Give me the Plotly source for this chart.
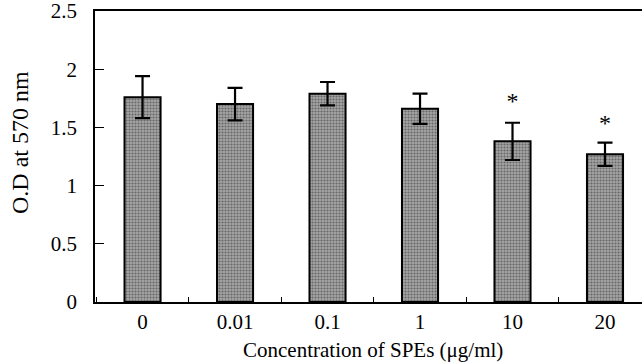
import plotly.graph_objects as go

categories = ["0", "0.01", "0.1", "1", "10", "20"]
od_values = [1.76, 1.70, 1.79, 1.66, 1.38, 1.27]
od_errors = [0.18, 0.14, 0.10, 0.13, 0.16, 0.10]
star_categories = ["10", "20"]
star_heights = [1.71, 1.52]
x_title = "Concentration of SPEs (\u03bcg/ml)"
y_title = "O.D at 570 nm"

fig = go.Figure()
fig.add_trace(go.Bar(
    x=categories, y=od_values, width=0.39,
    marker=dict(color="#8c8c8c", line=dict(color="black", width=2),
                pattern=dict(shape=".", fgcolor="#2a2a2a", bgcolor="#a4a4a4", size=3, solidity=0.4)),
    error_y=dict(type="data", array=od_errors, visible=True, color="black", thickness=2.2, width=7.5),
    showlegend=False,
))
fig.add_trace(go.Scatter(
    x=star_categories, y=star_heights, mode="text", text=["*"] * len(star_categories),
    textfont=dict(family="Liberation Serif", size=24, color="black"), showlegend=False,
))

fig.update_layout(
    width=642, height=362, plot_bgcolor="white", paper_bgcolor="white",
    margin=dict(l=95, r=0, t=11, b=60, autoexpand=False),
    font=dict(family="Liberation Serif", color="black"),
    bargap=0.6,
    annotations=[
        dict(text=x_title, xref="paper", yref="paper", x=(373 - 95) / 547, y=(302 - 350) / 291,
             xanchor="center", yanchor="middle", showarrow=False, font=dict(size=21)),
        dict(text=y_title, xref="paper", yref="paper", x=(20 - 95) / 547, y=(302 - 143) / 291,
             xanchor="center", yanchor="middle", textangle=-90, showarrow=False, font=dict(size=24)),
    ],
)
fig.update_xaxes(
    type="category", range=[-0.514, 5.4], showline=True, linecolor="black", linewidth=1.5,
    mirror=True, ticks="inside", ticklen=5, tickcolor="black", tickson="boundaries",
    tickfont=dict(size=21), showgrid=False, ticklabelstandoff=0, automargin=False,
    ticklabeloverflow="allow",
)
fig.update_yaxes(
    range=[0, 2.5], tickvals=[0, 0.5, 1, 1.5, 2, 2.5], ticktext=["0", "0.5", "1", "1.5", "2", "2.5"],
    showline=True, linecolor="black", linewidth=1.5, ticks="inside", ticklen=9, tickcolor="black",
    tickfont=dict(size=21), showgrid=False, zeroline=False, ticklabelstandoff=12, automargin=False,
    ticklabeloverflow="allow",
)
fig.write_html("out.html", config={"displayModeBar": False},
               post_script="document.body.style.margin='0';document.body.style.overflow='hidden';")
